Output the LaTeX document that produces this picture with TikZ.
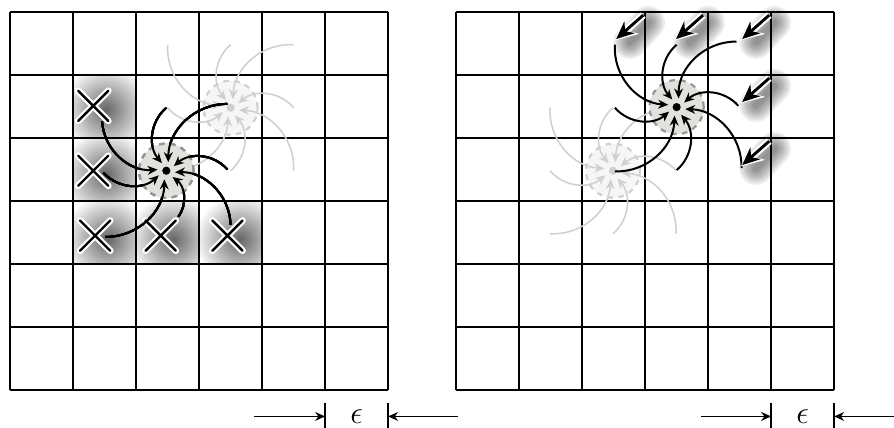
\documentclass[tikz,border=0pt]{standalone}
\usepackage{amsmath, amssymb}
\usetikzlibrary{arrows.meta, calc}
\definecolor{diskGray}{RGB}{226,225,221}
\definecolor{dashGray}{RGB}{150,150,150}
\definecolor{ghostFill}{RGB}{246,246,244}
\definecolor{ghostLine}{RGB}{208,208,208}

\tikzset{
  swirl/.style={line width=0.9pt, -{Stealth[length=4.5pt,width=4pt]}},
  ghostswirl/.style={swirl, ghostLine, line width=0.7pt},
  softshadow/.style={inner color=black!60, outer color=white},
  blurline/.style={black, opacity=0.075, line cap=round},
  bigarrow/.style={line width=1.3pt, -{Stealth[length=8pt,width=7pt]}},
  bighalo/.style={white, line width=3.2pt, -{Stealth[length=10pt,width=10pt]}},
  epsarrow/.style={line width=0.6pt, -{Stealth[length=4.5pt,width=4pt]}},
}

% spot with its swirl of incoming curves
\newcommand{\spot}[5]{%
  \fill[#2] (#1) circle (0.43);
  \draw[#3, line width=1pt, dash pattern=on 2.5pt off 2.5pt] (#1) circle (0.43);
  \foreach \tx/\ty in {#5} {
    \pgfmathsetmacro{\hd}{atan2(\ty,\tx)+30}
    \draw[#4] ($(#1)+(\tx,\ty)$) to[bend right=45] ($(#1)+(\hd:0.14)$);
  }
}
\newcommand{\cellcross}[2]{%
  \draw[white, line width=3pt, line cap=round] (#1-0.24,#2-0.24) -- (#1+0.24,#2+0.24) (#1-0.24,#2+0.24) -- (#1+0.24,#2-0.24);
  \draw[line width=1.1pt, line cap=round] (#1-0.24,#2-0.24) -- (#1+0.24,#2+0.24) (#1-0.24,#2+0.24) -- (#1+0.24,#2-0.24);
}

\begin{document}
\begin{tikzpicture}
  \useasboundingbox (-0.16,-0.59) rectangle (14.03,6.19);

  % left grid
  \foreach \x/\y in {1.32/4.51, 1.32/3.48, 1.35/2.45, 2.39/2.45, 3.45/2.45} {
    \begin{scope}
      \clip ({floor(\x)},{floor(\y)}) rectangle +(1,1);
      \shade[softshadow] (\x+0.2,\y-0.06) circle (0.72);
    \end{scope}
  }
  \draw[line width=0.9pt] (0,0) grid (6,6);
  \coordinate (oldL) at (3.5,4.48);
  \coordinate (newL) at (2.48,3.48);
  \spot{oldL}{ghostFill}{ghostLine}{ghostswirl}{-1/1, 0/1, 1/1, 1/0, 1/-1, 0/-1, -1/-1, -1/0}
  \fill[ghostLine] (oldL) circle (0.065);
  \foreach \x/\y in {1.32/4.51, 1.32/3.48, 1.35/2.45, 2.39/2.45, 3.45/2.45}
    \cellcross{\x}{\y}
  \spot{newL}{diskGray}{dashGray}{swirl}{-1.02/0.78, 0/1.0, 0.97/1.06, 0.97/0.02, 1.02/-0.86, 0.19/-0.73, -0.97/-1.05, -1.0/-0.03}
  \fill (newL) circle (0.065);

  \draw[line width=0.7pt] (5,-0.21) -- (5,-0.6) (6,-0.21) -- (6,-0.6);
  \coordinate (epsLa) at (3.87,-0.42);
  \coordinate (epsLb) at (7.11,-0.42);
  \draw[epsarrow] (epsLa) -- (5,-0.42);
  \draw[epsarrow] (epsLb) -- (6,-0.42);
  \node[font=\Large] (epsL) at (5.5,-0.42) {$\epsilon$};

  % right grid
  \begin{scope}[xshift=7.08cm]
    \foreach \x/\y in {2.5/5.5, 3.45/5.5, 4.5/5.5, 4.5/4.5, 4.5/3.5}
      \foreach \w in {3,5,...,15}
        \draw[blurline, line width=\w pt] (\x+0.55,\y+0.33) -- (\x+0.26,\y+0.02);
    \draw[line width=0.9pt] (0,0) grid (6,6);
    \coordinate (oldR) at (2.49,3.48);
    \coordinate (newR) at (3.5,4.49);
    \spot{oldR}{ghostFill}{ghostLine}{ghostswirl}{-1/1, 0/1, 1/1, 1/0, 1/-1, 0/-1, -1/-1, -1/0}
    \fill[ghostLine] (oldR) circle (0.065);
    \spot{newR}{diskGray}{dashGray}{swirl}{-0.98/0.99, 0/0.99, 0.95/1.04, 0.98/0.02, 1.03/-0.97, 0/-1.0, -0.98/-1.02, -0.98/-0.01}
    \fill (newR) circle (0.065);
    \foreach \x/\y in {2.5/5.5, 3.45/5.5, 4.5/5.5, 4.5/4.5, 4.5/3.5} {
      \draw[bighalo] (\x+0.47,\y+0.45) -- (\x+0.02,\y+0.05);
      \draw[bigarrow] (\x+0.47,\y+0.45) -- (\x+0.04,\y+0.07);
    }

    \draw[line width=0.7pt] (5,-0.21) -- (5,-0.6) (6,-0.21) -- (6,-0.6);
    \coordinate (epsRa) at (3.89,-0.42);
    \coordinate (epsRb) at (6.95,-0.42);
    \draw[epsarrow] (epsRa) -- (5,-0.42);
    \draw[epsarrow] (epsRb) -- (6,-0.42);
    \node[font=\Large] (epsR) at (5.5,-0.42) {$\epsilon$};
  \end{scope}
\end{tikzpicture}
\end{document}
